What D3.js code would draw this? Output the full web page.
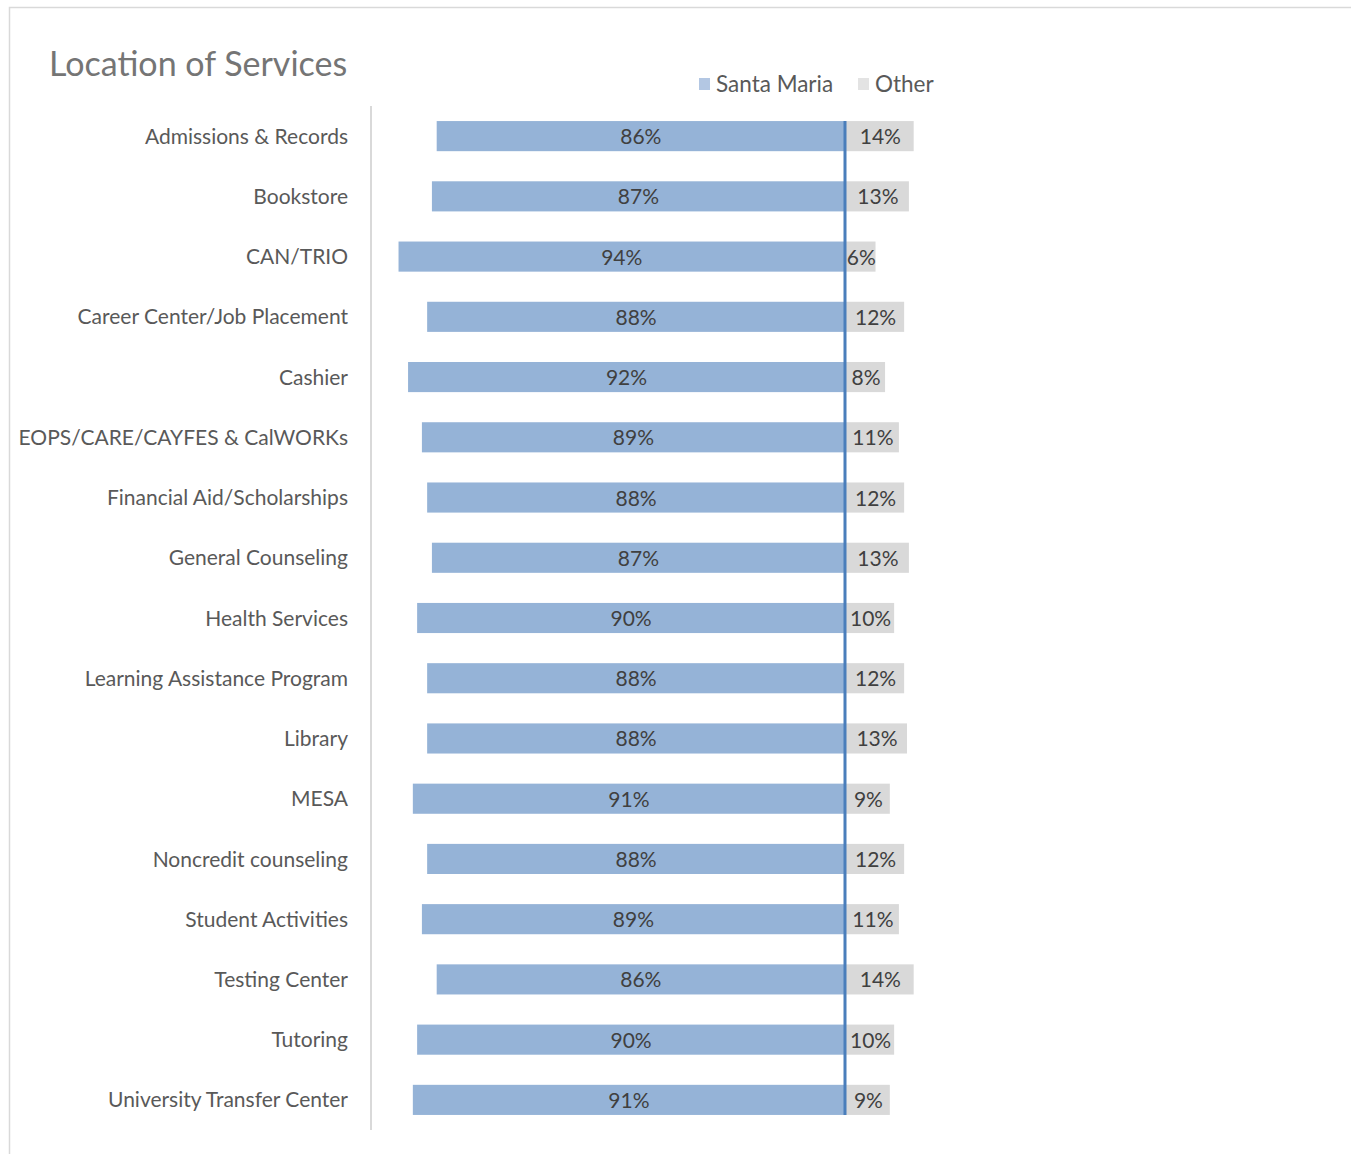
<!DOCTYPE html>
<html>
<head>
<meta charset="utf-8">
<script src="https://cdn.jsdelivr.net/npm/d3@7"></script>
<style>
  html, body { margin: 0; padding: 0; background: #ffffff; }
  svg { display: block; }
  text { font-family: Lato, "Open Sans", sans-serif; }
</style>
</head>
<body>
<svg id="chart" width="1351" height="1154"></svg>
<script>
// Survey responses: where students use each service (share of respondents, %)
const categories = [
  "Admissions & Records",
  "Bookstore",
  "CAN/TRIO",
  "Career Center/Job Placement",
  "Cashier",
  "EOPS/CARE/CAYFES & CalWORKs",
  "Financial Aid/Scholarships",
  "General Counseling",
  "Health Services",
  "Learning Assistance Program ",
  "Library",
  "MESA",
  "Noncredit counseling",
  "Student Activities",
  "Testing Center",
  "Tutoring",
  "University Transfer Center"
];
const santaMaria = [85.6, 86.6, 93.6, 87.6, 91.6, 88.7, 87.6, 86.6, 89.7, 87.6, 87.6, 90.6, 87.6, 88.7, 85.6, 89.7, 90.6];
const other      = [14.4, 13.4,  6.4, 12.4,  8.4, 11.3, 12.4, 13.4, 10.3, 12.4, 13.0,  9.4, 12.4, 11.3, 14.4, 10.3,  9.4];
const seriesNames = ["Santa Maria", "Other"];
const seriesColors = ["#95b3d7", "#d9d9d9"];

const rows = categories.map((c, i) => ({ name: c, sm: santaMaria[i], other: other[i] }));

const svg = d3.select("#chart");
const fmt = v => Math.round(v) + "%";

// outer chart frame
svg.append("rect")
  .attr("x", 9.5).attr("y", 7.5)
  .attr("width", 1400).attr("height", 1200)
  .attr("fill", "none").attr("stroke", "#d9d9d9").attr("stroke-width", 1.5);

// title
svg.append("text")
  .attr("x", 49).attr("y", 76)
  .attr("font-size", 34)
  .attr("fill", "#757575")
  .text("Location of Services");

// scales: Santa Maria extends left of zero, Other extends right
const x = d3.scaleLinear().domain([-100, 100]).range([368, 1322]);
const y = d3.scaleBand().domain(categories).range([106, 1130]).paddingInner(0.5).paddingOuter(0.25);

// category axis line
svg.append("line")
  .attr("x1", 371).attr("x2", 371)
  .attr("y1", 106).attr("y2", 1130)
  .attr("stroke", "#d9d9d9").attr("stroke-width", 2);

// category labels
const yAxis = d3.axisLeft(y).tickSize(0).tickPadding(0);
const yg = svg.append("g").attr("transform", "translate(348,0)").call(yAxis);
yg.select(".domain").remove();
yg.selectAll("text")
  .attr("font-size", 21)
  .attr("dy", "0.36em")
  .attr("fill", "#595959")
  .style("font-family", "Lato, 'Open Sans', sans-serif");

// Santa Maria bars
svg.append("g").selectAll("rect")
  .data(rows).join("rect")
  .attr("x", d => x(-d.sm))
  .attr("y", d => y(d.name))
  .attr("width", d => x(0) - x(-d.sm))
  .attr("height", y.bandwidth())
  .attr("fill", seriesColors[0]);

// Other bars
svg.append("g").selectAll("rect")
  .data(rows).join("rect")
  .attr("x", x(0))
  .attr("y", d => y(d.name))
  .attr("width", d => x(d.other) - x(0))
  .attr("height", y.bandwidth())
  .attr("fill", seriesColors[1]);

// value labels
svg.append("g").selectAll("text")
  .data(rows).join("text")
  .attr("x", d => (x(-d.sm) + x(0)) / 2)
  .attr("y", d => y(d.name) + y.bandwidth() / 2)
  .attr("dy", "0.38em")
  .attr("text-anchor", "middle")
  .attr("font-size", 21)
  .attr("fill", "#404040")
  .text(d => fmt(d.sm));

svg.append("g").selectAll("text")
  .data(rows).join("text")
  .attr("x", d => (x(0) + x(d.other)) / 2 + 1)
  .attr("y", d => y(d.name) + y.bandwidth() / 2)
  .attr("dy", "0.38em")
  .attr("text-anchor", "middle")
  .attr("font-size", 21)
  .attr("fill", "#404040")
  .text(d => fmt(d.other));

// zero line
svg.append("line")
  .attr("x1", x(0)).attr("x2", x(0))
  .attr("y1", y(categories[0]))
  .attr("y2", y(categories[categories.length - 1]) + y.bandwidth())
  .attr("stroke", "#4a7ebb").attr("stroke-width", 3);

// legend
const legend = svg.append("g").attr("transform", "translate(699,84)");
const legendX = [0, 159];
seriesNames.forEach((name, i) => {
  const g = legend.append("g").attr("transform", `translate(${legendX[i]},0)`);
  g.append("rect").attr("x", 0).attr("y", -6).attr("width", 11).attr("height", 12)
    .attr("fill", i === 0 ? "#b3c7e3" : "#e3e3e3");
  g.append("text").attr("x", 17).attr("y", 0).attr("dy", "0.36em")
    .attr("font-size", 22.5).attr("fill", "#595959").text(name);
});
</script>
</body>
</html>
